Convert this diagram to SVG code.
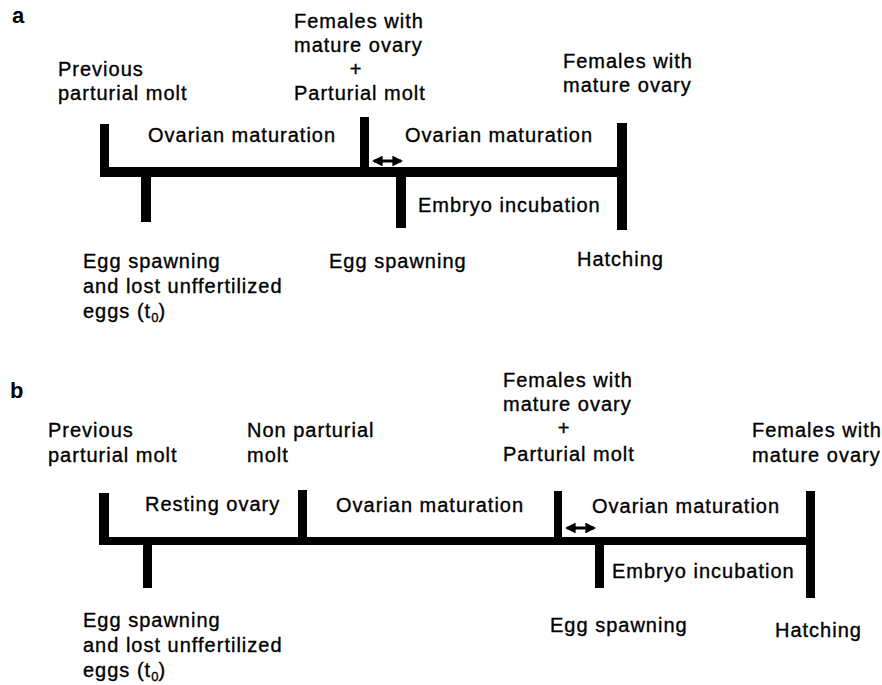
<svg xmlns="http://www.w3.org/2000/svg" width="882" height="685" viewBox="0 0 882 685">
<style>
text{font-family:"Liberation Sans",Arial,sans-serif;font-size:20px;letter-spacing:1px;fill:#000;stroke:#000;stroke-width:0.35px}
.lbl{font-weight:bold;font-size:22px;letter-spacing:0;stroke:none}
.c{text-anchor:middle}
.bar{fill:#000}
.arr{stroke:#000;stroke-width:3;fill:none}
.sub{font-size:13px;letter-spacing:0}
</style>
<defs>
<marker id="ah" viewBox="0 0 10 10" refX="8" refY="5" markerWidth="3.6" markerHeight="3.6" orient="auto-start-reverse" markerUnits="strokeWidth">
<path d="M0,0 L10,5 L0,10 Z" fill="#000"/>
</marker>
</defs>
<rect width="882" height="685" fill="#fff"/>

<text class="lbl" x="12" y="23">a</text>
<text class="lbl" x="10" y="398">b</text>

<!-- Panel a -->
<g id="a-timeline">
<rect class="bar" x="100" y="167" width="527" height="10"/>
<rect class="bar" x="100" y="124" width="9" height="53"/>
<rect class="bar" x="141" y="172" width="10" height="50"/>
<rect class="bar" x="360" y="117" width="9" height="55"/>
<rect class="bar" x="396" y="172" width="10" height="56"/>
<rect class="bar" x="617" y="123" width="10" height="107"/>
</g>
<g id="a-prev"><text x="58" y="76">Previous</text><text x="58" y="100">parturial molt</text></g>
<g id="a-mid"><text x="294" y="28">Females with</text><text x="294" y="52">mature ovary</text><text class="c" x="356" y="76">+</text><text x="294" y="100">Parturial molt</text></g>
<g id="a-right"><text x="563" y="68">Females with</text><text x="563" y="92">mature ovary</text></g>
<g id="a-ovm1"><text x="148" y="142">Ovarian maturation</text></g>
<g id="a-ovm2"><text x="405" y="142">Ovarian maturation</text></g>
<g id="a-emb"><text x="418" y="212">Embryo incubation</text></g>
<g id="a-egg1"><text x="83" y="268">Egg spawning</text><text x="83" y="293">and lost unffertilized</text><text x="83" y="318">eggs (t<tspan class="sub" dy="4">0</tspan><tspan dy="-4">)</tspan></text></g>
<g id="a-egg2"><text x="329" y="268">Egg spawning</text></g>
<g id="a-hatch"><text x="577" y="266">Hatching</text></g>

<!-- Panel b -->
<g id="b-timeline">
<rect class="bar" x="99" y="537" width="716" height="8"/>
<rect class="bar" x="99" y="493" width="10" height="52"/>
<rect class="bar" x="143" y="541" width="9" height="47"/>
<rect class="bar" x="298" y="490" width="9" height="51"/>
<rect class="bar" x="554" y="491" width="8" height="50"/>
<rect class="bar" x="595" y="541" width="9" height="47"/>
<rect class="bar" x="806" y="491" width="9" height="107"/>
</g>
<g id="b-prev"><text x="48" y="437">Previous</text><text x="48" y="462">parturial molt</text></g>
<g id="b-nonpart"><text x="247" y="437">Non parturial</text><text x="247" y="462">molt</text></g>
<g id="b-mid"><text x="503" y="387">Females with</text><text x="503" y="411">mature ovary</text><text class="c" x="564" y="435">+</text><text x="503" y="461">Parturial molt</text></g>
<g id="b-right"><text x="752" y="437">Females with</text><text x="752" y="462">mature ovary</text></g>
<g id="b-rest"><text x="145" y="511">Resting ovary</text></g>
<g id="b-ovm1"><text x="336" y="512">Ovarian maturation</text></g>
<g id="b-ovm2"><text x="592" y="513">Ovarian maturation</text></g>
<g id="b-emb"><text x="612" y="578">Embryo incubation</text></g>
<g id="b-egg1"><text x="83" y="627">Egg spawning</text><text x="83" y="652">and lost unffertilized</text><text x="83" y="677">eggs (t<tspan class="sub" dy="4">0</tspan><tspan dy="-4">)</tspan></text></g>
<g id="b-egg2"><text x="550" y="632">Egg spawning</text></g>
<g id="b-hatch"><text x="775" y="637">Hatching</text></g>

<g id="connectors">
<line class="arr" x1="374" y1="161" x2="401" y2="161" marker-start="url(#ah)" marker-end="url(#ah)"/>
<line class="arr" x1="567" y1="528" x2="594" y2="528" marker-start="url(#ah)" marker-end="url(#ah)"/>
</g>
</svg>
